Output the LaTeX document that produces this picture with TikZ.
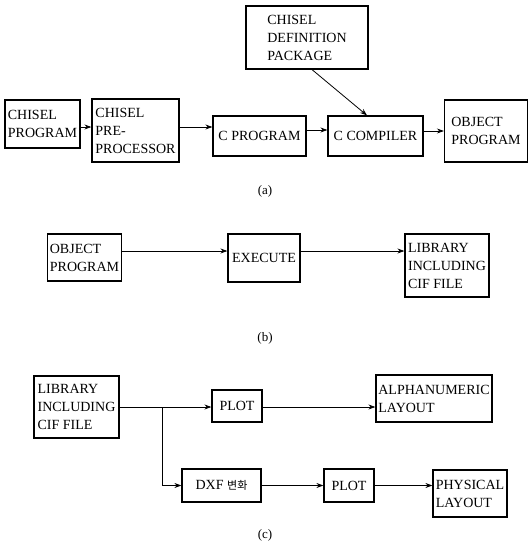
\documentclass[tikz,border=0pt]{standalone}
\usepackage{fontspec}
\setmainfont{Liberation Serif}
\newfontfamily\kr{Noto Sans CJK KR}
\usetikzlibrary{arrows.meta}
\begin{document}
\begin{tikzpicture}[x=1pt, y=-1pt,
        blk/.style = {draw, line width = 1.2pt, inner sep = 2pt, align = left,
                      font = \fontsize{14}{18}\selectfont},
        flow/.style = {line width = 0.8pt, -{Stealth[length = 7pt, width = 5pt]}},
        tag/.style = {font = \fontsize{13}{15}\selectfont}]
                \useasboundingbox (0, 0) rectangle (529, 554);
                % (a)
                \node[blk, minimum width = 122, minimum height = 63] (defpkg) at (307, 37.5) {CHISEL\\DEFINITION\\PACKAGE};
                \node[blk, minimum width = 75, minimum height = 48] (chprog) at (42.5, 124) {CHISEL\\PROGRAM};
                \node[blk, minimum width = 87, minimum height = 63] (preproc) at (135.5, 130.5) {CHISEL\\PRE-\\PROCESSOR};
                \node[blk, minimum width = 93, minimum height = 40] (cprog) at (259.5, 136) {C PROGRAM};
                \node[blk, minimum width = 95, minimum height = 40] (ccomp) at (375.5, 136) {C COMPILER};
                \node[blk, minimum width = 83, minimum height = 62] (objprog) at (486, 131) {OBJECT\\PROGRAM};
                \draw[flow] ([yshift = -3pt]chprog.east) -- ([yshift = -3pt]chprog.east -| preproc.west);
                \draw[flow] ([yshift = 3.5pt]preproc.east) -- ([yshift = 3.5pt]preproc.east -| cprog.west);
                \draw[flow] ([yshift = 6pt]cprog.east) -- ([yshift = 6pt]cprog.east -| ccomp.west);
                \draw[flow] ([yshift = 5pt]ccomp.east) -- ([yshift = 5pt]ccomp.east -| objprog.west);
                \draw[flow] ([xshift = 5pt]defpkg.south) -- ([xshift = -8.5pt]ccomp.north);
                \node[tag] (taga) at (265, 191) {(a)};
                % (b)
                \node[blk, minimum width = 71, minimum height = 47] (objprog2) at (84.5, 257.5) {OBJECT\\PROGRAM};
                \node[blk, minimum width = 72, minimum height = 48] (exec) at (264, 258) {EXECUTE};
                \node[blk, minimum width = 84, minimum height = 63] (lib) at (447, 265.5) {LIBRARY\\INCLUDING\\CIF FILE};
                \draw[flow] ([yshift = 6.5pt]objprog2.east) -- ([yshift = 6.5pt]objprog2.east -| exec.west);
                \draw[flow] ([yshift = 7pt]exec.east) -- ([yshift = 7pt]exec.east -| lib.west);
                \node[tag] (tagb) at (265, 338) {(b)};
                % (c)
                \node[blk, minimum width = 85, minimum height = 62] (lib2) at (76.5, 407) {LIBRARY\\INCLUDING\\CIF FILE};
                \node[blk, minimum width = 50, minimum height = 32] (plota) at (237, 406) {PLOT};
                \node[blk, minimum width = 116, minimum height = 47] (alpha) at (434, 398.5) {ALPHANUMERIC\\LAYOUT};
                \node[blk, minimum width = 79, minimum height = 33] (dxf) at (221.5, 485.5) {DXF {\kr\fontsize{11}{13}\selectfont 변화}};
                \node[blk, minimum width = 50, minimum height = 33] (plotb) at (349, 485.5) {PLOT};
                \node[blk, minimum width = 74, minimum height = 47] (phys) at (470, 493.5) {PHYSICAL\\LAYOUT};
                \draw[flow] (lib2.east) -- (lib2.east -| plota.west);
                \coordinate (fork) at ([xshift = 43pt]lib2.east);
                \draw[flow] (fork) |- (dxf.west);
                \draw[flow] ([yshift = -8.5pt]alpha.west -| plota.east) -- ([yshift = -8.5pt]alpha.west);
                \draw[flow] (dxf.east) -- (plotb.west);
                \draw[flow] (plotb.east) -- (plotb.east -| phys.west);
                \node[tag] (tagc) at (265, 535) {(c)};
\end{tikzpicture}
\end{document}
